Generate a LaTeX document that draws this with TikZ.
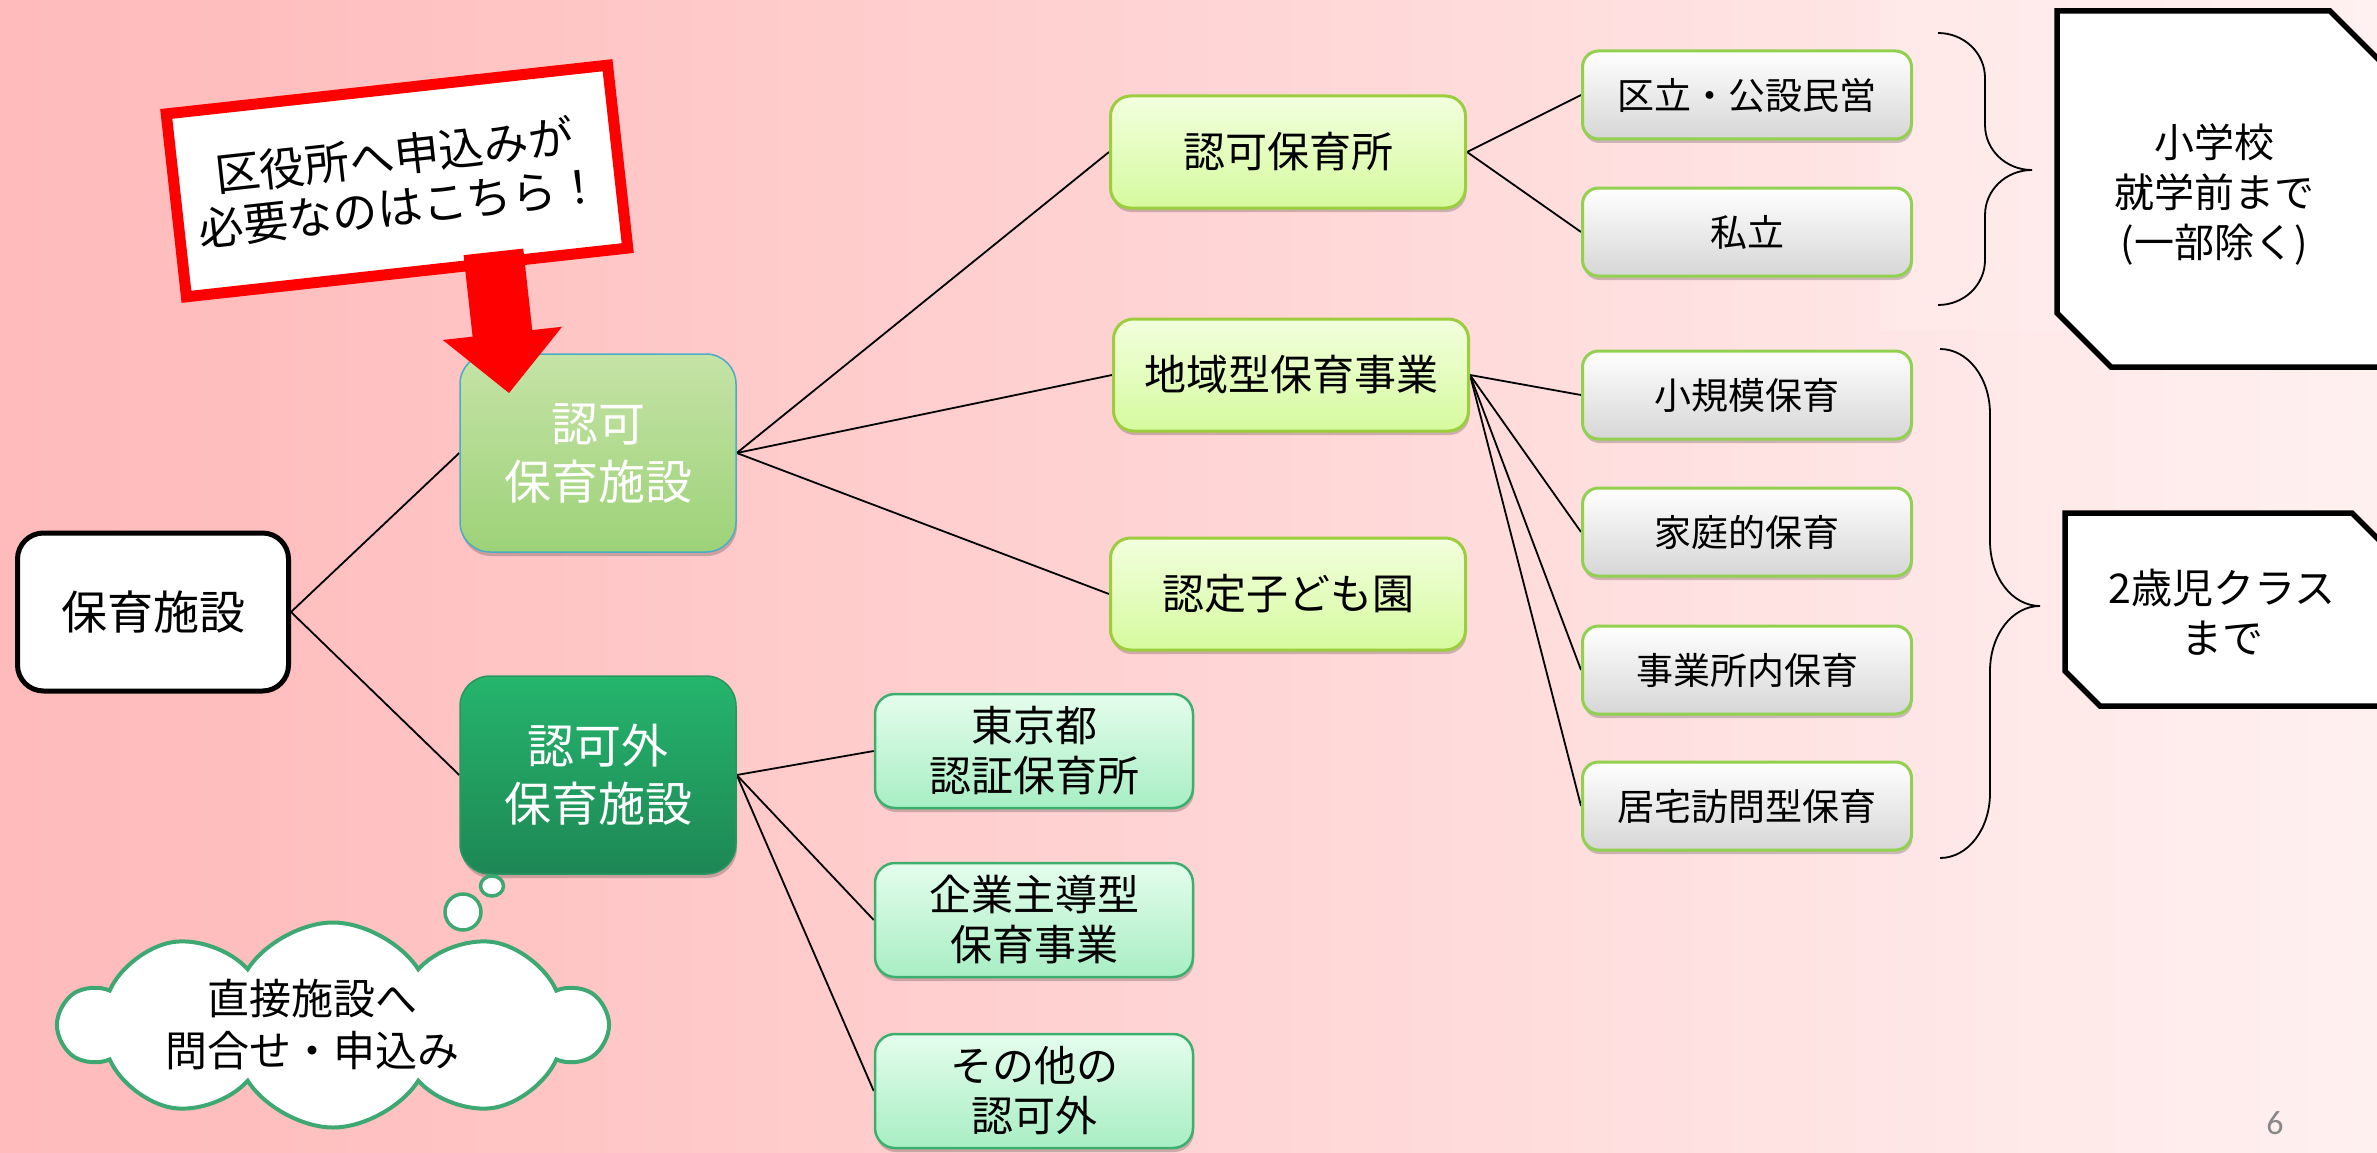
\documentclass[tikz,border=0pt]{standalone}
\usepackage{fontspec}
\setmainfont{Noto Sans CJK JP}
\newfontfamily\numfont{Carlito}
\usetikzlibrary{shapes.geometric,shapes.symbols,shadows}
\pgfdeclarelayer{bglayer}
\pgfdeclarelayer{linelayer}
\pgfsetlayers{bglayer,linelayer,main}
\definecolor{bgA}{RGB}{253,172,173}
\definecolor{bgB}{RGB}{255,190,190}
\definecolor{bgC}{RGB}{255,212,212}
\definecolor{bgD}{RGB}{255,232,232}
\definecolor{bgE}{RGB}{255,245,245}
\definecolor{bgF}{RGB}{255,252,252}
\definecolor{nin1}{RGB}{197,227,166}
\definecolor{nin2}{RGB}{157,210,120}
\definecolor{ninborder}{RGB}{75,172,198}
\definecolor{gai1}{RGB}{37,181,108}
\definecolor{gai2}{RGB}{30,135,85}
\definecolor{gaiborder}{RGB}{40,150,95}
\definecolor{yg1}{RGB}{242,255,222}
\definecolor{yg2}{RGB}{214,250,158}
\definecolor{ygborder}{RGB}{155,205,60}
\definecolor{gr1}{RGB}{255,255,255}
\definecolor{gr2}{RGB}{214,214,214}
\definecolor{grborder}{RGB}{146,208,80}
\definecolor{mt1}{RGB}{228,253,236}
\definecolor{mt2}{RGB}{168,238,196}
\definecolor{mtborder}{RGB}{60,175,110}
\definecolor{cloudgreen}{RGB}{62,168,114}
\definecolor{pagegray}{RGB}{136,136,136}
\pgfdeclarehorizontalshading{bgshade}{100bp}{color(0bp)=(bgA); color(30bp)=(bgB); color(50bp)=(bgC); color(67bp)=(bgD); color(80bp)=(bgE); color(100bp)=(bgF)}
\tikzset{
  softshadow/.style={drop shadow={shadow xshift=1pt,shadow yshift=-4pt,opacity=0.2,fill=black}},
  rootbox/.style={draw=black, line width=5pt, fill=white, rounded corners=26pt, minimum width=271pt, minimum height=158pt, align=center, inner sep=0pt, font=\fontsize{46}{56}\selectfont},
  ninbox/.style={draw=ninborder, line width=1.5pt, top color=nin1, bottom color=nin2, rounded corners=30pt, minimum width=276pt, minimum height=198pt, align=center, inner sep=0pt, text=white, font=\fontsize{47}{58}\selectfont, softshadow},
  gaibox/.style={ninbox, draw=gaiborder, top color=gai1, bottom color=gai2},
  ygbox/.style={draw=ygborder, line width=3pt, top color=yg1, bottom color=yg2, rounded corners=20pt, minimum width=355pt, minimum height=112pt, align=center, inner sep=0pt, font=\fontsize{42}{50}\selectfont, softshadow},
  grbox/.style={draw=grborder, line width=3pt, top color=gr1, bottom color=gr2, rounded corners=16pt, minimum width=329pt, minimum height=88pt, align=center, inner sep=0pt, font=\fontsize{37}{44}\selectfont, softshadow},
  mtbox/.style={draw=mtborder, line width=2.5pt, top color=mt1, bottom color=mt2, rounded corners=20pt, minimum width=318pt, minimum height=114pt, align=center, inner sep=0pt, font=\fontsize{42}{50}\selectfont, softshadow},
  octa/.style={draw=black, line width=5.5pt, fill=white, line join=miter},
  octatext/.style={align=center, inner sep=0pt},
  conn/.style={draw=black, line width=1.8pt},
  bracepath/.style={draw=black, line width=1.8pt},
  bubble/.style={ellipse, draw=cloudgreen, line width=3.5pt, fill=white, inner sep=0pt},
  callout/.style={draw=red, line width=11pt, fill=white, minimum width=444pt, minimum height=184pt, align=center, inner sep=0pt, font=\fontsize{45}{52}\selectfont},
}
\begin{document}
\begin{tikzpicture}[x=1pt,y=-1pt]
\begin{pgfonlayer}{bglayer}
\shade[shading=bgshade] (0,0) rectangle (2377,1153);
\fill[white, opacity=0.12] (1880,0) rectangle (2377,330);
\end{pgfonlayer}
\useasboundingbox (0,0) rectangle (2377,1153);

% main nodes
\node[rootbox] (hoiku) at (153,612) {保育施設};
\node[ninbox] (nin) at (598,453) {認可\\保育施設};
\node[gaibox] (ningai) at (598,775) {認可外\\保育施設};

\node[ygbox] (hoikusho) at (1288,152) {認可保育所};
\node[ygbox] (chiiki) at (1291,375) {地域型保育事業};
\node[ygbox] (kodomo) at (1288,594) {認定子ども園};

\node[grbox] (kuritsu) at (1747,95) {区立・公設民営};
\node[grbox] (shiritsu) at (1747,232) {私立};
\node[grbox] (shokibo) at (1747,395) {小規模保育};
\node[grbox] (katei) at (1747,532) {家庭的保育};
\node[grbox] (jigyo) at (1747,670) {事業所内保育};
\node[grbox] (kyotaku) at (1747,806) {居宅訪問型保育};

\node[mtbox] (tokyo) at (1034,751) {東京都\\認証保育所};
\node[mtbox] (kigyo) at (1034,920) {企業主導型\\保育事業};
\node[mtbox] (sonota) at (1034,1091) {その他の\\認可外};

% connectors
\begin{pgfonlayer}{linelayer}
\draw[conn] (hoiku.east) -- (nin.west);
\draw[conn] (hoiku.east) -- (ningai.west);
\draw[conn] (nin.east) -- (hoikusho.west);
\draw[conn] (nin.east) -- (chiiki.west);
\draw[conn] (nin.east) -- (kodomo.west);
\draw[conn] (ningai.east) -- (tokyo.west);
\draw[conn] (ningai.east) -- (kigyo.west);
\draw[conn] (ningai.east) -- (sonota.west);
\draw[conn] (hoikusho.east) -- (kuritsu.west);
\draw[conn] (hoikusho.east) -- (shiritsu.west);
\draw[conn] (chiiki.east) -- (shokibo.west);
\draw[conn] (chiiki.east) -- (katei.west);
\draw[conn] (chiiki.east) -- (jigyo.west);
\draw[conn] (chiiki.east) -- (kyotaku.west);
\end{pgfonlayer}

% braces
\draw[bracepath] (1938,33) .. controls (1964,33) and (1985,53) .. (1985,78) -- (1985,125)
  .. controls (1985,150) and (2006,170) .. (2032,170)
  .. controls (2006,170) and (1985,190) .. (1985,215) -- (1985,260)
  .. controls (1985,285) and (1964,305) .. (1938,305);
\draw[bracepath] (1940,349) .. controls (1968,349) and (1990,378) .. (1990,414) -- (1990,541)
  .. controls (1990,577) and (2012,606) .. (2040,606)
  .. controls (2012,606) and (1990,635) .. (1990,671) -- (1990,793)
  .. controls (1990,829) and (1968,858) .. (1940,858);

% snipped boxes
\draw[octa] (2057,11) -- (2330,11) -- (2384,65) -- (2384,367) -- (2111,367) -- (2057,313) -- cycle;
\node[octatext, font=\fontsize{40}{50}\selectfont] (age6) at (2214,195) {小学校\\就学前まで\\(一部除く)};
\draw[octa] (2065,513) -- (2352,513) -- (2388,549) -- (2388,706) -- (2100,706) -- (2065,671) -- cycle;
\node[octatext, font=\fontsize{41}{50}\selectfont] (age2) at (2222,612) {2歳児クラス\\まで};

% cloud callout
\node[cloud, draw=cloudgreen, line width=4pt, fill=white, cloud puffs=10, cloud puff arc=115, aspect=2.6, minimum width=545pt, minimum height=205pt, inner sep=0pt] (cloud) at (333,1025) {};
\node[align=center, inner sep=0pt, font=\fontsize{42}{52}\selectfont] (cloudtext) at (312,1024) {直接施設へ\\問合せ・申込み};
\node[bubble, minimum width=36pt, minimum height=36pt] (bub2) at (463,912) {};
\node[bubble, minimum width=23pt, minimum height=20pt] (bub1) at (492,886) {};

% red callout with block arrow
\node[callout, rotate=6.3] (redbox) at (397,181) {区役所へ申込みが\\必要なのはこちら！};
\coordinate (arrowtip) at (509,393);
\begin{scope}[shift={(arrowtip)}, rotate=6.3]
\fill[red] (0,0) -- (-60,-60) -- (-30,-60) -- (-30,-142) -- (30,-142) -- (30,-60) -- (60,-60) -- cycle;
\end{scope}

% page number
\node[text=pagegray, font=\numfont\fontsize{34}{34}\selectfont, inner sep=0pt] (pnum) at (2275,1123) {6};
\end{tikzpicture}
\end{document}
